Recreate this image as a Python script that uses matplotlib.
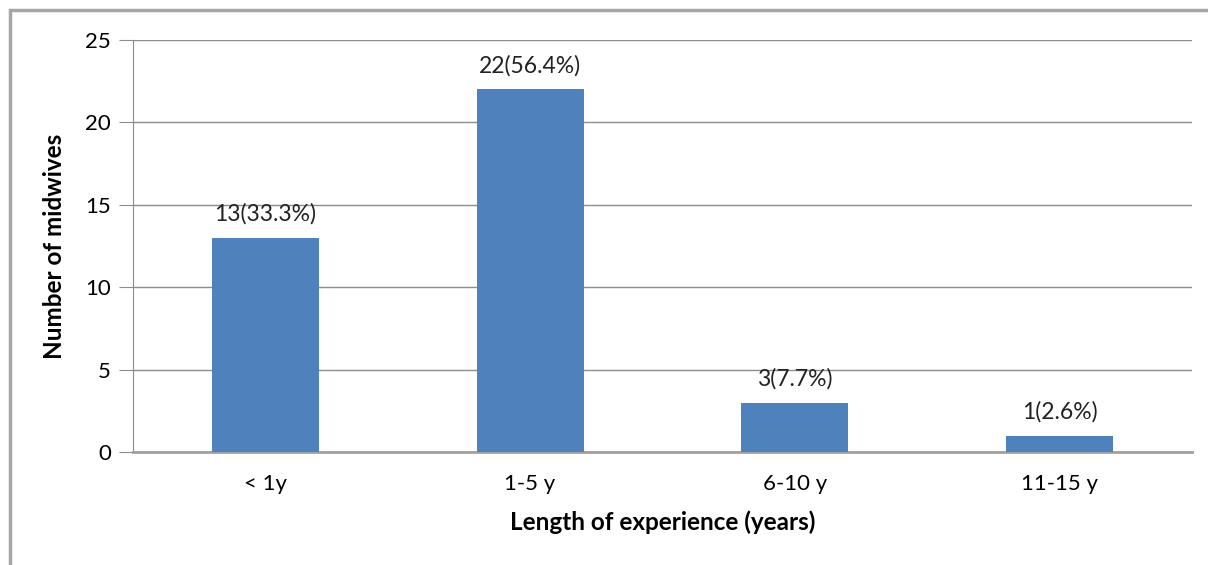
import matplotlib.pyplot as plt
from matplotlib.patches import Rectangle

categories = ['< 1y', '1-5 y', '6-10 y', '11-15 y']
counts = [13, 22, 3, 1]
labels = ['13(33.3%)', '22(56.4%)', '3(7.7%)', '1(2.6%)']

plt.rcParams['font.family'] = ['Lato', 'DejaVu Sans']

fig = plt.figure(figsize=(12.08, 5.65), dpi=100)
ax = fig.add_axes([133/1208, 1 - 452/565, (1192 - 133)/1208, (452 - 40)/565])

# outer frame like the excel chart area
fig.patches.append(Rectangle((10/1208, -0.1), 1.2, 1 - 10/565 + 0.1,
                             transform=fig.transFigure, fill=False,
                             edgecolor='#a6a6a6', linewidth=2.5))

x = list(range(len(categories)))
ax.bar(x, counts, width=0.404, color='#4f81bd', zorder=3)
for i, v in enumerate(counts):
    ax.text(i, v + 0.8, labels[i], ha='center', va='bottom', fontsize=16.5, color='#222222')

ax.set_xlim(-0.5, 3.5)
ax.set_ylim(0, 25)
ax.set_yticks([0, 5, 10, 15, 20, 25])
ax.set_xticks(x)
ax.set_xticklabels(categories)
ax.yaxis.grid(True, color='#8c8c8c', linewidth=1)
ax.set_axisbelow(True)
for s in ['top', 'right']:
    ax.spines[s].set_visible(False)
ax.spines['left'].set_color('#8c8c8c')
ax.spines['bottom'].set_color('#a0a0a0')
ax.spines['bottom'].set_linewidth(2)
ax.tick_params(axis='y', length=10, color='#8c8c8c', labelsize=16, pad=6)
ax.tick_params(axis='x', length=0, labelsize=16, pad=16)

ax.set_ylabel('Number of midwives', fontsize=17.5, fontweight='bold', labelpad=14)
ax.set_xlabel('Length of experience (years)', fontsize=17.5, fontweight='bold', labelpad=12)

fig.savefig('out.png')
